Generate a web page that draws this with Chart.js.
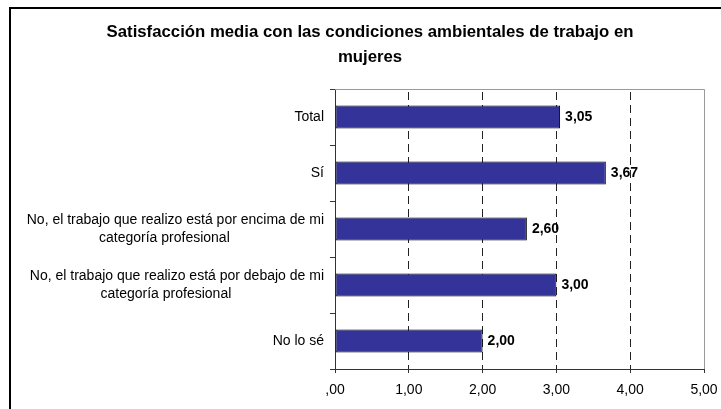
<!DOCTYPE html>
<html><head><meta charset="utf-8">
<script src="https://cdn.jsdelivr.net/npm/chart.js@4/dist/chart.umd.min.js"></script>
<style>html,body{margin:0;padding:0;background:#fff}#wrap{width:721px;height:409px;position:relative}canvas{display:block}</style>
</head><body><div id="wrap"><canvas id="c" width="721" height="409"></canvas></div>
<script>
const categories = [
  ["Total"],
  ["Sí"],
  ["No, el trabajo que realizo está por encima de mi", "categoría profesional"],
  ["No, el trabajo que realizo está por debajo de mi", "categoría profesional"],
  ["No lo sé"]
];
const values = [3.05, 3.67, 2.60, 3.00, 2.00];
const tickLabels = [",00", "1,00", "2,00", "3,00", "4,00", "5,00"];
const titleLines = ["Satisfacción media con las condiciones ambientales de trabajo en", "mujeres"];

const FONT = "'Liberation Sans', Arial, sans-serif";
Chart.defaults.font.family = FONT;
Chart.defaults.color = '#000';

function fmt(v) { return v.toFixed(2).replace('.', ','); }

const framePlugin = {
  id: 'frame',
  beforeDraw(chart) {
    const ctx = chart.ctx;
    ctx.save();
    ctx.fillStyle = '#fff';
    ctx.fillRect(0, 0, chart.width, chart.height);
    ctx.fillStyle = '#000';
    ctx.fillRect(9, 7, 2, chart.height - 7);
    ctx.fillRect(9, 7, chart.width - 9, 2);
    ctx.restore();
  },
  beforeDatasetsDraw(chart) {
    const a = chart.chartArea, ctx = chart.ctx;
    ctx.save();
    ctx.strokeStyle = '#9a9a9a';
    ctx.lineWidth = 1;
    ctx.beginPath();
    ctx.moveTo(a.left, Math.round(a.top) + 0.5);
    ctx.lineTo(Math.round(a.right) + 0.5, Math.round(a.top) + 0.5);
    ctx.lineTo(Math.round(a.right) + 0.5, a.bottom);
    ctx.stroke();
    ctx.restore();
  }
};

const yLabelPlugin = {
  id: 'yLabels',
  afterDraw(chart) {
    const ys = chart.scales.y, ctx = chart.ctx;
    ctx.save();
    ctx.font = '14px ' + FONT;
    ctx.fillStyle = '#000';
    ctx.textBaseline = 'middle';
    ctx.textAlign = 'center';
    const right = chart.chartArea.left - 11;
    categories.forEach((lines, i) => {
      const y = ys.getPixelForValue(i);
      const w = ctx.measureText(lines[0]).width;
      const lh = 18;
      lines.forEach((l, j) => {
        const cx = j === 0 ? right - ctx.measureText(l).width / 2 : right - w / 2 - 11;
        ctx.fillText(l, cx, y + (j - (lines.length - 1) / 2) * lh);
      });
    });
    ctx.restore();
  }
};

const valueLabelPlugin = {
  id: 'valueLabels',
  afterDatasetsDraw(chart) {
    const meta = chart.getDatasetMeta(0), ctx = chart.ctx;
    ctx.save();
    ctx.font = 'bold 14px ' + FONT;
    ctx.fillStyle = '#000';
    ctx.textBaseline = 'middle';
    ctx.textAlign = 'left';
    meta.data.forEach((bar, i) => {
      ctx.fillText(fmt(values[i]), bar.x + 5, bar.y);
    });
    ctx.restore();
  }
};

const inner = v => v > 0 && v < 5;

new Chart(document.getElementById('c'), {
  type: 'bar',
  data: {
    labels: categories,
    datasets: [{
      data: values,
      backgroundColor: '#333399',
      borderColor: '#000',
      borderWidth: 1,
      borderSkipped: false,
      barPercentage: 0.41,
      categoryPercentage: 1
    }]
  },
  options: {
    indexAxis: 'y',
    responsive: false,
    devicePixelRatio: 1,
    animation: false,
    events: [],
    layout: { padding: { left: 36, right: 17, top: 0, bottom: 0 } },
    plugins: {
      legend: { display: false },
      tooltip: { enabled: false },
      title: {
        display: true,
        text: titleLines,
        color: '#000',
        font: { family: FONT, size: 16.75, weight: 'bold', lineHeight: 25 / 16.75 },
        padding: { top: 19.5, bottom: 19.5 }
      }
    },
    scales: {
      x: {
        type: 'linear',
        min: 0,
        max: 5,
        ticks: {
          stepSize: 1,
          padding: 9,
          color: '#000',
          font: { size: 14, family: FONT },
          callback: (v, i) => tickLabels[i]
        },
        grid: {
          color: ctx => (ctx.tick && inner(ctx.tick.value)) ? '#222' : 'rgba(0,0,0,0)',
          tickColor: '#333',
          tickLength: 4,
          drawTicks: true,
          borderDash: ctx => (ctx.tick && inner(ctx.tick.value)) ? [8, 5] : [],
          borderDashOffset: 10
        },
        border: {
          display: true,
          color: '#333',
          width: 1,
          dash: ctx => (ctx.tick && inner(ctx.tick.value)) ? [8, 5] : [],
          dashOffset: 10
        },
        afterFit: s => { s.height = 40; s.paddingLeft = 0; s.paddingRight = 0; }
      },
      y: {
        type: 'category',
        offset: true,
        ticks: { display: false },
        grid: {
          offset: true,
          drawOnChartArea: false,
          drawTicks: true,
          tickLength: 5,
          tickColor: '#333'
        },
        border: { display: true, color: '#333', width: 1 },
        afterFit: s => { s.width = 299; }
      }
    }
  },
  plugins: [framePlugin, yLabelPlugin, valueLabelPlugin]
});
</script>
</body></html>
